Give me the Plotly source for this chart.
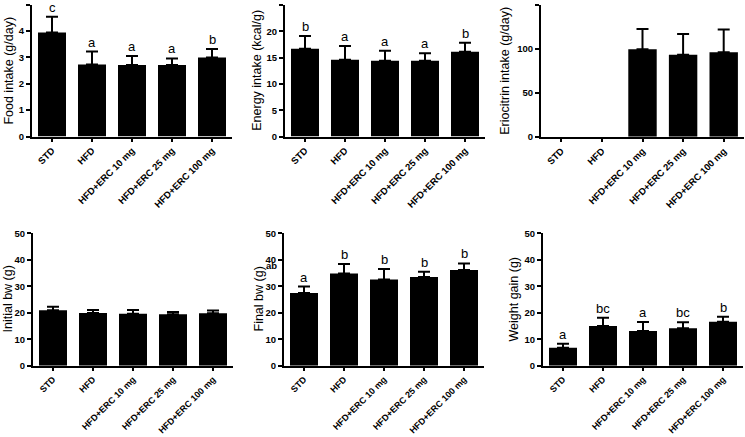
import plotly.graph_objects as go

groups = ["STD", "HFD", "HFD+ERC 10 mg", "HFD+ERC 25 mg", "HFD+ERC 100 mg"]

food_mean = [3.95, 2.73, 2.71, 2.71, 3.00]
food_sd = [0.59, 0.49, 0.34, 0.25, 0.32]
food_letters = ["c", "a", "a", "a", "b"]

energy_mean = [16.7, 14.6, 14.4, 14.4, 16.1]
energy_sd = [2.4, 2.6, 1.9, 1.45, 1.7]
energy_letters = ["b", "a", "a", "a", "b"]

erc_mean = [None, None, 99.5, 93.1, 96.1]
erc_sd = [None, None, 23.0, 23.7, 25.6]
erc_letters = ["", "", "", "", ""]

init_mean = [20.9, 19.9, 19.65, 19.4, 19.8]
init_sd = [1.4, 1.1, 1.4, 0.9, 1.0]
init_letters = ["", "", "", "", ""]

final_mean = [27.5, 34.8, 32.6, 33.5, 36.1]
final_sd = [2.4, 3.6, 3.9, 2.0, 2.5]
final_letters = ["a", "b", "b", "b", "b"]

gain_mean = [6.8, 15.0, 13.1, 14.1, 16.6]
gain_sd = [1.5, 3.1, 3.4, 2.3, 1.9]
gain_letters = ["a", "bc", "a", "bc", "b"]

titles = ["Food intake (g/day)", "Energy intake (kcal/g)", "Eriocitrin intake (g/day)",
          "Initial bw (g)", "Final bw (g)", "Weight gain (g)"]
yranges = [(5, 1), (25, 5), (150, 50), (50, 10), (50, 10), (50, 10)]
panels = [(food_mean, food_sd, food_letters), (energy_mean, energy_sd, energy_letters),
          (erc_mean, erc_sd, erc_letters), (init_mean, init_sd, init_letters),
          (final_mean, final_sd, final_letters), (gain_mean, gain_sd, gain_letters)]

W, H = 745, 437
# pixel layout of each plot area: (left, right, top, bottom)
boxes = [(32, 232, 4.7, 136.5), (285, 485, 5.0, 136.5), (541, 744, 4.7, 136.8),
         (33, 233, 233.3, 365.7), (284, 484, 233.3, 365.7), (543, 743, 233.3, 365.7)]
# x pixel of the centre of each y-axis title
title_x = [9, 257, 505, 7, 258, 513]
xlabel_size = [9.5, 9.5, 9.5, 9, 9, 9]

FONT = "Arial, Liberation Sans, sans-serif"
fig = go.Figure()
for i, ((m, s, letters), (ymax, dt)) in enumerate(zip(panels, yranges)):
    n = i + 1
    xa = "x" if n == 1 else f"x{n}"
    ya = "y" if n == 1 else f"y{n}"
    fig.add_trace(go.Bar(
        x=groups, y=m, xaxis=xa, yaxis=ya, marker=dict(color="black", line=dict(width=0)),
        error_y=dict(type="data", symmetric=False, array=s, arrayminus=[0] * len(s),
                     color="black", thickness=2, width=6),
        showlegend=False, hoverinfo="skip"))
    for g, v, e, t in zip(groups, m, s, letters):
        if t:
            fig.add_annotation(x=g, y=v + e, xref=xa, yref=ya, text=t, showarrow=False,
                               yanchor="bottom", yshift=0,
                               font=dict(family=FONT, size=13, color="black"))
    l, r, t_, b = boxes[i]
    axis_common = dict(showline=True, linecolor="black", linewidth=2, ticks="outside",
                       tickcolor="black", tickwidth=2, showgrid=False, zeroline=False,
                       automargin=False)
    fig.layout[("xaxis" if n == 1 else f"xaxis{n}")] = dict(
        domain=[l / W, r / W], anchor=ya, range=[-0.5, 4.5], tickangle=-45, ticklen=3,
        tickfont=dict(family=FONT, size=xlabel_size[i], color="black", weight="bold"),
        **axis_common)
    fig.layout[("yaxis" if n == 1 else f"yaxis{n}")] = dict(
        domain=[1 - b / H, 1 - t_ / H], anchor=xa, range=[0, ymax], dtick=dt, tick0=0,
        ticklen=4,
        tickfont=dict(family=FONT, size=9.5, color="black", weight="bold"),
        **axis_common)
    fig.add_annotation(x=title_x[i] / W, y=1 - (t_ + b) / 2 / H, xref="paper", yref="paper",
                       text=titles[i], textangle=-90, showarrow=False,
                       xanchor="center", yanchor="middle",
                       font=dict(family=FONT, size=12.5, color="black"))

# stray overlapping label present in the original figure
fig.add_annotation(x=boxes[4][0] / W, y=38.0, xref="paper", yref="y5", text="<b>ab</b>",
                   showarrow=False, xanchor="right", xshift=-5,
                   font=dict(family=FONT, size=9.5, color="black"))

fig.update_layout(width=W, height=H, margin=dict(l=0, r=0, t=0, b=0, autoexpand=False),
                  plot_bgcolor="white", paper_bgcolor="white", bargap=0.3)
fig.write_html("out.html", config={"displayModeBar": False, "staticPlot": True},
               post_script="document.body.style.margin='0';document.body.style.overflow='hidden';")
